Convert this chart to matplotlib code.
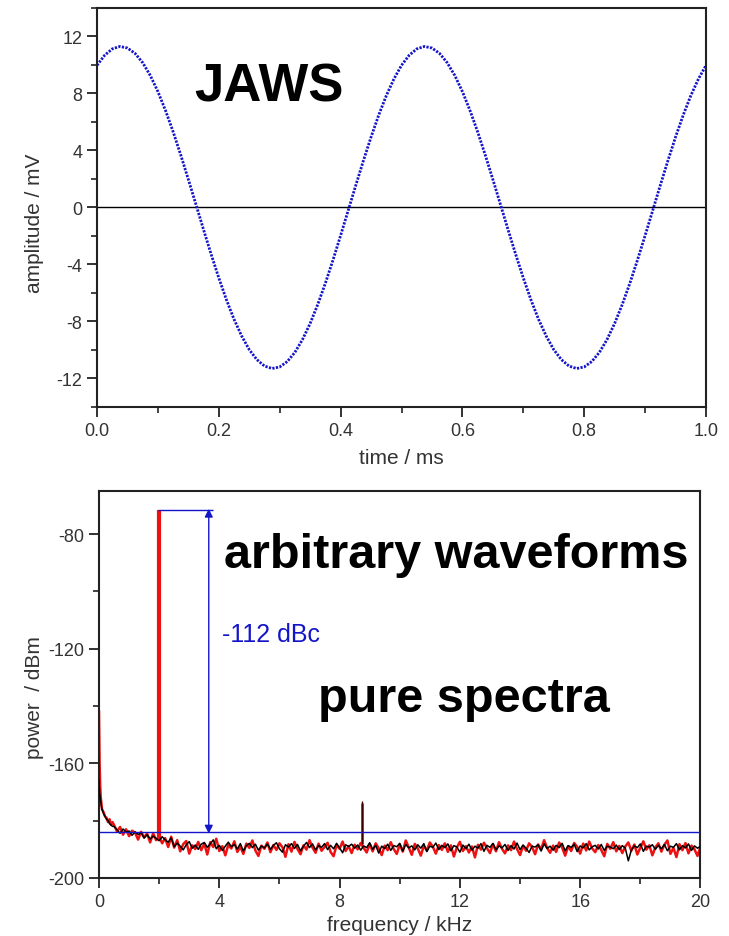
import numpy as np
import matplotlib
matplotlib.use("Agg")
import matplotlib.pyplot as plt
from matplotlib.ticker import MultipleLocator

plt.rcParams["font.family"] = ["Liberation Sans", "DejaVu Sans"]
plt.rcParams["axes.unicode_minus"] = False

# --- JAWS waveform (sampled every 0.0125 ms) ---
time_ms = np.arange(81) * 0.0125
amplitude_mv = [
    9.98, 10.68, 11.13, 11.30, 11.19, 10.81, 10.16, 9.26, 8.13, 6.80,
    5.31, 3.68, 1.96, 0.20, -1.57, -3.30, -4.95, -6.48, -7.85, -9.02,
    -9.98, -10.68, -11.13, -11.30, -11.19, -10.81, -10.16, -9.26, -8.13, -6.80,
    -5.31, -3.68, -1.96, -0.20, 1.57, 3.30, 4.95, 6.48, 7.85, 9.02,
    9.98, 10.68, 11.13, 11.30, 11.19, 10.81, 10.16, 9.26, 8.13, 6.80,
    5.31, 3.68, 1.96, 0.20, -1.57, -3.30, -4.95, -6.48, -7.85, -9.02,
    -9.98, -10.68, -11.13, -11.30, -11.19, -10.81, -10.16, -9.26, -8.13, -6.80,
    -5.31, -3.68, -1.96, -0.20, 1.57, 3.30, 4.95, 6.48, 7.85, 9.02,
    9.98,
]

# --- spectrum: low-frequency rise ---
freq_lf = [0.0, 0.01, 0.02, 0.04, 0.06, 0.08, 0.1, 0.15, 0.2, 0.25, 0.3, 0.35, 0.4, 0.45]
red_lf = [-142, -150, -160, -168, -172, -174, -176, -177, -178.5, -179, -180.5, -179.5, -181.5, -180.5]
black_lf = [-166, -168, -170, -172, -173.5, -175, -176, -177.5, -178.5, -179.5, -180, -181, -181.5, -182]

# --- spectrum: noise floor, 0.5 .. 20 kHz every 0.1 kHz ---
freq_grid = np.round(np.arange(196) * 0.1 + 0.5, 2)
red_floor = [
    -181.5, -183.8, -182.2, -184.9, -183.0, -185.4, -183.5, -184.2, -186.6, -183.9,
    -185.8, -184.5, -187.6, -184.4, -186.8, -185.5, -187.9, -186.1, -189.2, -185.6,
    -189.4, -186.8, -190.7, -188.2, -187.1, -191.5, -188.6, -189.9, -187.4, -190.3,
    -188.0, -191.8, -187.5, -189.2, -186.3, -190.6, -188.9, -192.1, -188.4, -189.7,
    -187.2, -190.9, -189.1, -191.6, -188.0, -189.5, -186.9, -190.4, -192.3, -188.7,
    -189.8, -187.6, -191.0, -188.5, -190.2, -187.9, -189.3, -192.6, -188.2, -190.8,
    -187.4, -189.9, -191.7, -188.6, -190.1, -186.8, -189.4, -191.2, -188.0, -190.5,
    -189.2, -187.7, -190.9, -192.4, -188.5, -189.8, -187.3, -190.6, -188.9, -191.3,
    -188.4, -190.0, -187.8, -189.5, -191.1, -188.2, -190.7, -187.9, -189.6, -192.0,
    -188.7, -190.3, -187.5, -189.9, -191.6, -188.3, -190.8, -186.9, -189.4, -191.9,
    -188.1, -189.7, -192.2, -188.8, -190.4, -187.6, -189.1, -191.5, -188.5, -190.2,
    -187.9, -190.9, -188.6, -192.5, -189.3, -187.4, -190.6, -188.9, -191.1, -189.0,
    -192.8, -188.4, -190.1, -187.7, -189.6, -191.3, -188.2, -190.7, -187.5, -189.8,
    -191.4, -188.6, -190.3, -187.3, -189.9, -192.0, -188.8, -190.5, -187.9, -189.2,
    -191.7, -188.3, -190.0, -186.8, -189.5, -191.2, -188.7, -190.9, -187.6, -189.4,
    -192.2, -188.9, -190.6, -187.8, -189.1, -191.5, -188.0, -190.4, -187.3, -189.7,
    -191.0, -188.5, -190.2, -192.4, -188.1, -189.8, -187.5, -190.7, -188.8, -191.3,
    -189.0, -187.6, -190.5, -188.3, -191.8, -189.4, -187.2, -190.1, -188.6, -192.1,
    -189.3, -187.9, -190.8, -188.4, -186.9, -191.6, -189.5, -192.7, -188.2, -190.3,
    -187.8, -191.4, -188.7, -190.0, -192.3, -189.1,
]
black_floor = [
    -182.0, -183.2, -184.4, -182.9, -184.0, -183.6, -185.1, -183.9, -184.8, -184.2,
    -186.1, -184.9, -186.4, -185.4, -186.2, -187.0, -185.6, -186.7, -187.5, -186.0,
    -189.1, -187.8, -188.9, -190.2, -188.4, -187.3, -189.6, -188.5, -190.0, -188.2,
    -187.6, -189.3, -188.1, -186.7, -189.8, -188.6, -190.4, -188.9, -187.5, -189.1,
    -188.3, -189.9, -188.0, -190.6, -188.7, -187.9, -189.4, -188.2, -190.3, -188.8,
    -189.5, -188.1, -190.0, -188.6, -187.7, -189.8, -191.0, -188.4, -189.2, -188.0,
    -189.7, -188.3, -190.5, -188.9, -187.6, -189.4, -188.1, -190.2, -188.7, -189.3,
    -188.0, -190.1, -188.6, -189.8, -187.9, -189.5, -191.2, -188.4, -189.0, -188.2,
    -189.6, -188.5, -190.3, -188.8, -189.4, -187.7, -190.0, -188.6, -191.3, -188.9,
    -189.7, -188.2, -190.4, -188.7, -189.1, -187.9, -190.6, -188.3, -189.5, -188.8,
    -190.2, -188.4, -189.6, -188.0, -190.8, -188.9, -189.3, -187.8, -190.1, -188.6,
    -189.4, -188.1, -190.5, -188.7, -189.2, -191.0, -188.5, -189.8, -188.2, -190.3,
    -188.9, -189.6, -188.0, -190.7, -188.6, -189.3, -187.9, -190.2, -188.8, -189.5,
    -188.3, -190.4, -188.7, -189.9, -187.8, -190.1, -188.5, -189.6, -191.1, -188.9,
    -189.2, -188.4, -190.6, -188.1, -189.7, -188.9, -190.3, -188.6, -189.4, -187.9,
    -190.5, -188.7, -189.3, -188.2, -190.8, -188.8, -189.5, -188.0, -190.2, -189.1,
    -188.6, -189.9, -188.3, -190.4, -188.9, -189.2, -189.8, -188.5, -190.1, -188.7,
    -189.6, -194.0, -190.3, -188.8, -189.4, -188.1, -190.7, -188.9, -189.2, -188.4,
    -190.0, -188.6, -189.8, -188.3, -190.5, -188.9, -189.3, -188.0, -190.2, -188.7,
    -189.5, -188.1, -190.4, -188.8, -189.6, -188.9,
]

carrier_khz = 2.0
carrier_dbm = -71.5
spur_khz = 8.75
spur_red_dbm = -174.0
spur_black_dbm = -173.3
floor_marker_dbm = -184.0
dbc_label = "-112 dBc"

BLUE = "#1414c8"
TICK_GRAY = "#333333"

fig = plt.figure(figsize=(7.29, 9.37), dpi=100)

# ---------- top panel ----------
ax1 = fig.add_axes([0.1331, 0.5646, 0.8354, 0.4258])
ax1.axhline(0, color="black", lw=1.0, zorder=1)
ax1.plot(time_ms, amplitude_mv, color=BLUE, lw=2.0, linestyle=(0, (0.8, 0.5)), zorder=2)
ax1.set_xlim(0, 1.0)
ax1.set_ylim(-14, 14)
ax1.xaxis.set_major_locator(MultipleLocator(0.2))
ax1.xaxis.set_minor_locator(MultipleLocator(0.1))
ax1.yaxis.set_major_locator(MultipleLocator(4))
ax1.yaxis.set_minor_locator(MultipleLocator(2))
ax1.xaxis.set_major_formatter(plt.FuncFormatter(lambda v, p: f"{v:.1f}"))
ax1.yaxis.set_major_formatter(plt.FuncFormatter(lambda v, p: f"{v:.0f}"))
ax1.set_xlabel("time / ms", fontsize=15, color=TICK_GRAY, labelpad=7)
ax1.set_ylabel("amplitude / mV", fontsize=15, color=TICK_GRAY)
ax1.yaxis.set_label_coords(-0.087, 0.464)
ax1.text(0.16, 8.5, "JAWS", fontsize=38, fontweight="bold", ha="left", va="center")

# ---------- bottom panel ----------
ax2 = fig.add_axes([0.1358, 0.0619, 0.8251, 0.4130])
red_f = np.concatenate([freq_lf, freq_grid])
red_p = np.concatenate([red_lf, red_floor])
black_p = np.concatenate([black_lf, black_floor])
ax2.plot(red_f, red_p, color="#ee1111", lw=1.8, zorder=2)
ax2.vlines(carrier_khz, floor_marker_dbm - 2, carrier_dbm, color="#ee1111", lw=3.0, zorder=3)
ax2.vlines(spur_khz, -188, spur_red_dbm, color="#ee1111", lw=2.0, zorder=2)
ax2.plot(red_f, black_p, color="black", lw=1.1, zorder=4)
ax2.vlines(spur_khz, -188, spur_black_dbm, color="#400000", lw=1.0, zorder=4)

ax2.axhline(floor_marker_dbm, color=BLUE, lw=1.0, zorder=5)
ax2.hlines(carrier_dbm, 1.95, 3.8, color=BLUE, lw=1.0, zorder=5)
ax2.annotate("", xy=(3.65, floor_marker_dbm - 0.5), xytext=(3.65, carrier_dbm + 0.3),
             arrowprops=dict(arrowstyle="<|-|>", color=BLUE, lw=1.0,
                             mutation_scale=12, shrinkA=0, shrinkB=0), zorder=5)
ax2.text(4.1, -115, dbc_label, color=BLUE, fontsize=18, ha="left", va="center")
ax2.text(4.15, -91.5, "arbitrary waveforms", fontsize=35, fontweight="bold",
         ha="left", va="baseline")
ax2.text(7.28, -141.9, "pure spectra", fontsize=35, fontweight="bold",
         ha="left", va="baseline")

ax2.set_xlim(0, 20)
ax2.set_ylim(-200, -65)
ax2.xaxis.set_major_locator(MultipleLocator(4))
ax2.xaxis.set_minor_locator(MultipleLocator(2))
ax2.yaxis.set_major_locator(MultipleLocator(40))
ax2.yaxis.set_minor_locator(MultipleLocator(20))
ax2.set_xlabel("frequency / kHz", fontsize=15, color=TICK_GRAY, labelpad=4)
ax2.set_ylabel("power  / dBm", fontsize=15, color=TICK_GRAY)
ax2.yaxis.set_label_coords(-0.092, 0.468)

for ax in (ax1, ax2):
    for s in ax.spines.values():
        s.set_linewidth(1.5)
        s.set_color("#222222")
    ax.tick_params(which="major", direction="out", length=7, width=1.3,
                   labelsize=13, labelcolor=TICK_GRAY, color="#222222")
    ax.tick_params(which="minor", direction="out", length=4, width=1.2, color="#222222")

fig.savefig("out.png", dpi=100)
